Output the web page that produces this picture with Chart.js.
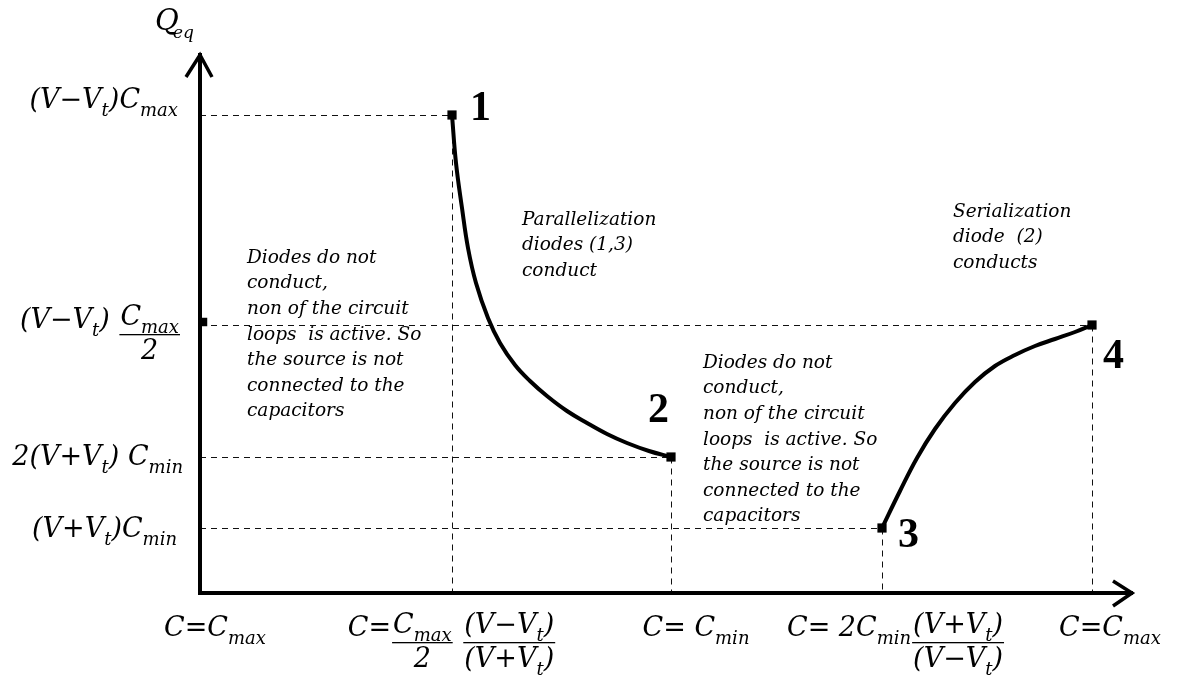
<!DOCTYPE html>
<html>
<head>
<meta charset="utf-8">
<script src="https://cdn.jsdelivr.net/npm/chart.js@4.4.1/dist/chart.umd.min.js"></script>
<style>
  html, body { margin: 0; background: #fff; }
  #wrap { width: 1181px; height: 675px; }
</style>
</head>
<body>
<div id="wrap"><canvas id="qChart"></canvas></div>
<script>
// curve 1 -> 2 (parallelization diodes conduct)
const parallelC = [252, 256, 262, 268, 276, 288, 300, 315, 330, 347, 367, 387, 407, 427, 449, 471];
const parallelQ = [478, 430, 385, 345, 310, 275, 250, 228, 212, 197, 182, 170, 159, 150, 142, 136];
// curve 3 -> 4 (serialization diode conducts)
const serialC = [682, 700, 717, 735, 755, 775, 795, 815, 835, 855, 875, 892];
const serialQ = [65, 102, 135, 164, 190, 211, 227, 238, 247, 254, 261, 268];
// reference levels on both axes
const levelC = [0, 252, 471, 682, 892];
const levelQ = [478, 271, 136, 65];
const pointNames = ['1', '2', '3', '4'];

// "_xyz" = subscript, {num, den} = fraction
const yTickLabels = [
    ['(V−V_t)C_max'],
    ['(V−V_t) ', { num: 'C_max', den: '2' }],
    ['2(V+V_t) C_min'],
    ['(V+V_t)C_min'],
];
const xTickLabels = [
    ['C=C_max'],
    ['C=', { num: 'C_max', den: '2' }, ' ', { num: '(V−V_t)', den: '(V+V_t)' }],
    ['C= C_min'],
    ['C= 2C_min', { num: '(V+V_t)', den: '(V−V_t)' }],
    ['C=C_max'],
];
const notes = [
    ['Diodes do not', 'conduct,', 'non of the circuit', 'loops  is active. So', 'the source is not', 'connected to the', 'capacitors'],
    ['Parallelization', 'diodes (1,3)', 'conduct'],
    ['Diodes do not', 'conduct,', 'non of the circuit', 'loops  is active. So', 'the source is not', 'connected to the', 'capacitors'],
    ['Serialization', 'diode  (2)', 'conducts'],
];

const MAIN = 'italic 27px "DejaVu Serif"';
const SUB = 'italic 18px "DejaVu Serif"';

const splitSub = (str) => {
    const out = [];
    const re = /_([A-Za-z]+)/g;
    let last = 0, m;
    while ((m = re.exec(str))) {
        if (m.index > last) out.push([str.slice(last, m.index), false]);
        out.push([m[1], true]);
        last = re.lastIndex;
    }
    if (last < str.length) out.push([str.slice(last), false]);
    return out;
};

const runWidth = (ctx, str) => {
    let w = 0;
    splitSub(str).forEach(([t, sub]) => {
        ctx.font = sub ? SUB : MAIN;
        w += ctx.measureText(t).width;
    });
    return w;
};

const drawRun = (ctx, str, x, y) => {
    splitSub(str).forEach(([t, sub]) => {
        ctx.font = sub ? SUB : MAIN;
        ctx.fillText(t, x, sub ? y + 8 : y);
        x += ctx.measureText(t).width;
    });
    return x;
};

const partWidth = (ctx, p) => typeof p === 'string'
    ? runWidth(ctx, p)
    : Math.max(runWidth(ctx, p.num), runWidth(ctx, p.den)) + 4;

const labelWidth = (ctx, parts) => parts.reduce((s, p) => s + partWidth(ctx, p), 0);

const drawLabel = (ctx, parts, x, y) => {
    parts.forEach(p => {
        const w = partWidth(ctx, p);
        if (typeof p === 'string') {
            drawRun(ctx, p, x, y);
        } else {
            drawRun(ctx, p.num, x + (w - runWidth(ctx, p.num)) / 2, y - 3);
            ctx.fillRect(x + 1, y + 6, w - 2, 1.3);
            drawRun(ctx, p.den, x + (w - runWidth(ctx, p.den)) / 2, y + 31);
        }
        x += w;
    });
};

const diagramPlugin = {
    id: 'diagram',
    beforeDatasetsDraw(chart) {
        const { ctx, scales: { x, y } } = chart;
        const x0 = x.getPixelForValue(0), y0 = y.getPixelForValue(0);
        ctx.save();
        // dashed guide lines
        ctx.strokeStyle = '#111';
        ctx.lineWidth = 1;
        ctx.setLineDash([6, 5]);
        const ends = [[parallelC[0], parallelQ[0]], [serialC[serialC.length - 1], serialQ[serialQ.length - 1]],
                      [parallelC[parallelC.length - 1], parallelQ[parallelQ.length - 1]], [serialC[0], serialQ[0]]];
        ends.forEach(([c, q]) => {
            const px = Math.round(x.getPixelForValue(c)) + 0.5, py = Math.round(y.getPixelForValue(q)) + 0.5;
            ctx.beginPath();
            ctx.moveTo(x0, py); ctx.lineTo(px, py);
            ctx.moveTo(px, py); ctx.lineTo(px, y0);
            ctx.stroke();
        });
        ctx.setLineDash([]);
        // axes with open arrow heads
        ctx.strokeStyle = '#000';
        ctx.lineWidth = 4;
        ctx.lineCap = 'butt';
        const top = chart.chartArea.top - 2, right = chart.chartArea.right + 3;
        ctx.beginPath();
        ctx.moveTo(x0, y0 + 2); ctx.lineTo(x0, top);
        ctx.moveTo(x0 - 2, y0); ctx.lineTo(right, y0);
        ctx.stroke();
        ctx.lineWidth = 3.5;
        ctx.beginPath();
        ctx.moveTo(x0 - 14, top + 24); ctx.lineTo(x0, top + 2); ctx.lineTo(x0 + 12, top + 24);
        ctx.moveTo(right - 20, y0 - 12); ctx.lineTo(right - 1, y0); ctx.lineTo(right - 20, y0 + 13);
        ctx.stroke();
        ctx.restore();
    },
    afterDatasetsDraw(chart) {
        const { ctx, scales: { x, y } } = chart;
        const x0 = x.getPixelForValue(0);
        ctx.save();
        ctx.fillStyle = '#000';
        ctx.textBaseline = 'alphabetic';
        // axis title
        ctx.font = 'italic 29px "DejaVu Serif"';
        ctx.fillText('Q', x0 - 45, 30);
        ctx.font = 'italic 17px "DejaVu Serif"';
        ctx.fillText('eq', x0 - 27, 38);
        // y tick labels (right aligned)
        const yNudge = [-7, 6, 8, 9];
        const yRight = [22, 19, 17, 23];
        yTickLabels.forEach((parts, i) => {
            const w = labelWidth(ctx, parts);
            drawLabel(ctx, parts, x0 - yRight[i] - w, y.getPixelForValue(levelQ[i]) + yNudge[i]);
        });
        // x tick labels (centered)
        const xNudge = [15, 0, 25, 14, 18];
        xTickLabels.forEach((parts, i) => {
            const w = labelWidth(ctx, parts);
            drawLabel(ctx, parts, x.getPixelForValue(levelC[i]) + xNudge[i] - w / 2, 636);
        });
        // region notes
        const noteAt = [[47, 335], [322, 373], [503, 230], [753, 381]];
        ctx.font = 'italic 18.5px "DejaVu Serif"';
        ctx.textBaseline = 'middle';
        notes.forEach((lines, i) => {
            const nx = x.getPixelForValue(noteAt[i][0]), ny = y.getPixelForValue(noteAt[i][1]);
            lines.forEach((t, k) => ctx.fillText(t, nx, ny + k * 25.6));
        });
        // point numbers
        ctx.font = 'bold 42px "Liberation Serif"';
        ctx.textBaseline = 'alphabetic';
        const pts = [[parallelC[0], parallelQ[0]], [parallelC[parallelC.length - 1], parallelQ[parallelQ.length - 1]],
                     [serialC[0], serialQ[0]], [serialC[serialC.length - 1], serialQ[serialQ.length - 1]]];
        const off = [[18, 5], [-23, -35], [16, 19], [11, 43]];
        pts.forEach(([c, q], i) => {
            ctx.fillText(pointNames[i], x.getPixelForValue(c) + off[i][0], y.getPixelForValue(q) + off[i][1]);
        });
        ctx.restore();
    },
};

const endRadius = (n) => Array.from({ length: n }, (_, i) => (i === 0 || i === n - 1) ? 6.5 : 0);

new Chart(document.getElementById('qChart').getContext('2d'), {
    type: 'scatter',
    data: {
        datasets: [
            {
                label: 'Parallelization',
                data: parallelC.map((c, i) => ({ x: c, y: parallelQ[i] })),
                showLine: true,
                tension: 0.4,
                borderColor: '#000',
                backgroundColor: '#000',
                borderWidth: 4,
                pointStyle: 'rect',
                pointRadius: endRadius(parallelC.length),
                pointBorderWidth: 0,
                clip: false,
            },
            {
                label: 'Serialization',
                data: serialC.map((c, i) => ({ x: c, y: serialQ[i] })),
                showLine: true,
                tension: 0.4,
                borderColor: '#000',
                backgroundColor: '#000',
                borderWidth: 4,
                pointStyle: 'rect',
                pointRadius: endRadius(serialC.length),
                pointBorderWidth: 0,
                clip: false,
            },
            {
                label: 'Half level',
                data: [{ x: 3, y: levelQ[1] }],
                backgroundColor: '#000',
                pointStyle: 'rect',
                pointRadius: 6,
                pointBorderWidth: 0,
                clip: false,
            },
        ],
    },
    options: {
        responsive: true,
        maintainAspectRatio: false,
        animation: false,
        layout: { padding: { left: 200, right: 51, top: 55, bottom: 82 } },
        scales: {
            x: { type: 'linear', display: false, min: 0, max: 930 },
            y: { type: 'linear', display: false, min: 0, max: 538 },
        },
        plugins: { legend: { display: false }, tooltip: { enabled: false } },
    },
    plugins: [diagramPlugin],
});
</script>
</body>
</html>
